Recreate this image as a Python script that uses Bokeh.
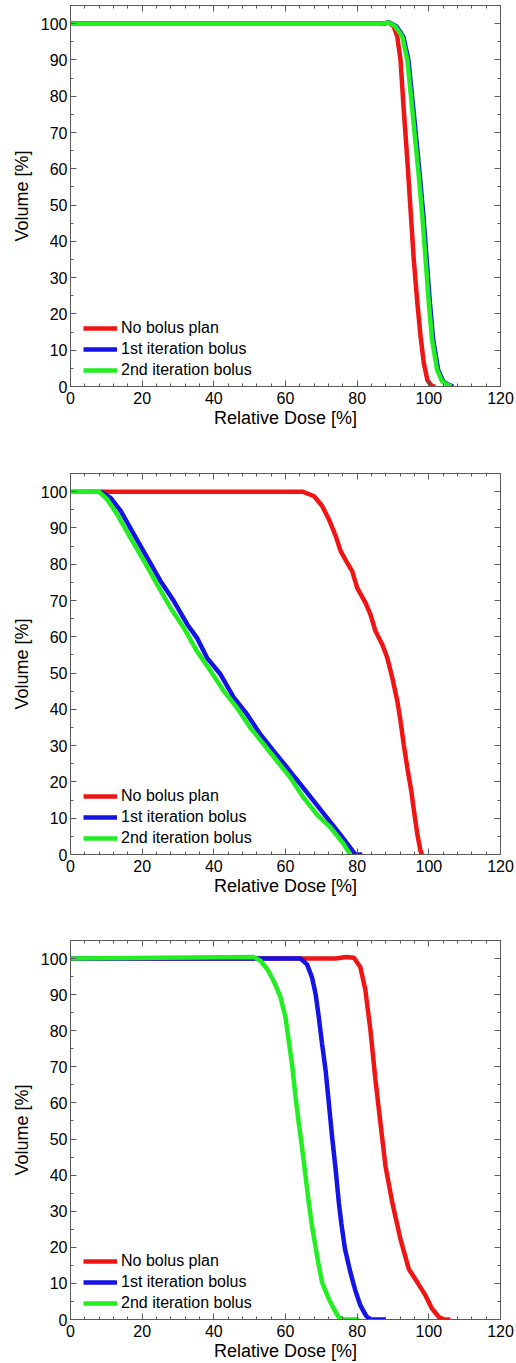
from bokeh.plotting import figure
from bokeh.layouts import column
from bokeh.models import Range1d, SingleIntervalTicker, LinearAxis, CustomJSTickFormatter, Legend, LegendItem
from bokeh.embed import file_html
from bokeh.resources import INLINE

series_names = ["No bolus plan", "1st iteration bolus", "2nd iteration bolus"]
colors = ["#f01414", "#1414e6", "#22ee22"]

# Panel 1
p1_red_x = [0, 87.0, 89.0, 90.2, 91.2, 92.1, 93.0, 94.0, 94.9, 95.8, 96.8, 97.7, 98.6, 99.6, 100.5, 101.2, 101.9]
p1_red_y = [100, 100, 100.3, 99.2, 96.4, 90.0, 76.2, 62.4, 48.7, 34.9, 23.0, 13.8, 6.4, 1.8, 0.5, 0, 0]
p1_blue_x = [0, 87.0, 89.0, 91.0, 92.9, 94.3, 95.7, 96.6, 97.5, 98.5, 99.4, 100.3, 101.2, 102.6, 104.0, 105.4, 106.8]
p1_blue_y = [100, 100, 100.3, 99.2, 96.4, 90.0, 76.2, 67.1, 57.9, 46.8, 34.9, 23.0, 12.9, 4.6, 1.4, 0.5, 0]
p1_green_x = [0, 87.0, 89.0, 90.7, 92.6, 94.0, 95.4, 96.3, 97.2, 98.2, 99.1, 100.0, 100.9, 102.3, 103.7, 105.1, 106.3]
p1_green_y = [100, 100, 100.3, 99.2, 96.4, 90.0, 76.2, 67.1, 57.9, 46.8, 34.9, 23.0, 12.9, 4.6, 1.4, 0.5, 0]

# Panel 2
p2_red_x = [0, 8.4, 64.7, 67.9, 70.2, 72.1, 74.0, 75.4, 77.2, 78.6, 80.0, 82.3, 83.7, 85.1, 87.0, 88.4, 89.8, 91.2, 92.1, 93.0, 94.0, 95.1, 96.0, 96.8, 97.7, 98.1]
p2_red_y = [100, 100, 100, 98.8, 96.1, 92.4, 87.8, 83.6, 80.4, 78.1, 73.5, 69.4, 66.2, 61.6, 57.9, 54.2, 48.7, 42.3, 36.8, 30.3, 23.9, 17.5, 11.0, 5.5, 0.9, 0]
p2_blue_x = [8.4, 11.2, 14.0, 17.7, 21.4, 25.1, 28.8, 32.6, 35.3, 38.1, 41.9, 45.6, 49.3, 53.0, 56.7, 60.5, 64.2, 67.9, 71.6, 75.3, 78.1, 79.5, 81.4]
p2_blue_y = [100, 98.3, 94.7, 88.2, 81.8, 75.4, 69.9, 63.4, 59.7, 54.2, 49.6, 43.2, 38.6, 33.1, 28.5, 23.9, 19.3, 14.7, 10.1, 5.5, 1.8, 0, 0]
p2_green_x = [0, 7.9, 10.2, 13.0, 16.7, 20.5, 24.2, 27.9, 31.6, 35.3, 39.1, 42.8, 46.5, 50.2, 54.0, 57.7, 61.4, 65.1, 68.8, 72.6, 76.3, 77.7, 78.1]
p2_green_y = [100, 100, 97.9, 93.8, 87.3, 80.9, 74.4, 68.0, 62.5, 56.0, 50.6, 45.0, 40.4, 34.9, 30.3, 25.7, 21.1, 15.6, 11.0, 7.4, 2.8, 0.5, 0]

# Panel 3
p3_red_x = [0, 74.0, 77.0, 79.1, 80.9, 82.3, 83.7, 85.1, 86.5, 87.9, 89.8, 92.1, 94.4, 96.8, 99.1, 100.9, 102.8, 104.0, 106.0]
p3_red_y = [100, 100, 100.4, 100.2, 97.6, 91.2, 80.2, 66.4, 54.4, 42.5, 32.4, 22.2, 14.0, 10.3, 6.6, 3.0, 0.7, 0, 0]
p3_blue_x = [0, 64.2, 66.0, 67.4, 68.4, 69.3, 70.2, 71.2, 72.1, 73.0, 74.0, 74.9, 75.6, 76.6, 78.1, 79.5, 80.9, 82.5, 83.7, 87.9]
p3_blue_y = [100, 100, 98.4, 94.8, 90.2, 83.7, 76.4, 69.0, 59.9, 50.7, 41.5, 32.3, 26.5, 19.5, 13.1, 8.0, 3.9, 1.0, 0, 0]
p3_green_x = [0, 51.2, 53.0, 54.9, 56.7, 58.6, 60.0, 60.9, 61.9, 62.8, 63.7, 64.7, 65.6, 66.5, 67.4, 68.8, 70.2, 72.1, 73.5, 74.9, 76.3, 80.5]
p3_green_y = [100, 100.4, 99.4, 97.1, 93.8, 89.3, 83.7, 77.3, 70.0, 61.7, 54.4, 47.0, 39.7, 32.3, 25.9, 17.6, 10.3, 5.7, 2.9, 0.6, 0, 0]

x_ticks_interval = 20
y_ticks_interval = 10
x_label = "Relative Dose [%]"
y_label = "Volume [%]"

FONT = "Liberation Sans"
AX_COLOR = "#5a5a5a"


def style_axis(ax, show_labels=True):
    ax.axis_line_color = AX_COLOR
    ax.major_tick_line_color = AX_COLOR
    ax.minor_tick_line_color = AX_COLOR
    ax.major_tick_in = 6
    ax.major_tick_out = 0
    ax.minor_tick_in = 3
    ax.minor_tick_out = 0
    ax.major_label_text_font = FONT
    ax.major_label_text_font_size = "16px"
    ax.major_label_text_color = "black"
    ax.axis_label_text_font = FONT
    ax.axis_label_text_font_size = "18px"
    ax.axis_label_text_font_style = "normal"
    ax.axis_label_text_color = "black"
    if not show_labels:
        ax.formatter = CustomJSTickFormatter(code="return ''")
        ax.major_label_standoff = 0
        ax.axis_label_standoff = 0


def make_panel(data, height, bottom):
    p = figure(width=516, height=height, output_backend="svg", toolbar_location=None,
               x_range=Range1d(0, 120), y_range=Range1d(0, 105),
               min_border_left=70, min_border_right=16, min_border_top=5, min_border_bottom=bottom)
    p.grid.visible = False
    p.outline_line_color = AX_COLOR
    p.background_fill_color = "white"
    p.border_fill_color = "white"
    xt = SingleIntervalTicker(interval=x_ticks_interval, num_minor_ticks=5)
    yt = SingleIntervalTicker(interval=y_ticks_interval, num_minor_ticks=2)
    p.xaxis.ticker = xt
    p.yaxis.ticker = yt
    p.xaxis.axis_label = x_label
    p.yaxis.axis_label = y_label
    for ax in p.xaxis:
        style_axis(ax)
        ax.major_label_standoff = 5
        ax.axis_label_standoff = 1
    for ax in p.yaxis:
        style_axis(ax)
        ax.major_label_standoff = 3
        ax.axis_label_standoff = 6
    top = LinearAxis(ticker=SingleIntervalTicker(interval=x_ticks_interval, num_minor_ticks=5))
    style_axis(top, show_labels=False)
    p.add_layout(top, "above")
    right = LinearAxis(ticker=SingleIntervalTicker(interval=y_ticks_interval, num_minor_ticks=2))
    style_axis(right, show_labels=False)
    p.add_layout(right, "right")

    items = []
    for (xs, ys), name, c in zip(data, series_names, colors):
        r = p.line(xs, ys, line_color=c, line_width=4.5)
        items.append(LegendItem(label=name, renderers=[r]))
    leg = Legend(items=items, location=(13, 6), orientation="vertical")
    leg.background_fill_alpha = 0
    leg.border_line_color = None
    leg.padding = 0
    leg.margin = 0
    leg.spacing = 1
    leg.glyph_width = 34
    leg.glyph_height = 20
    leg.label_height = 20
    leg.label_standoff = 4
    leg.label_text_font = FONT
    leg.label_text_font_size = "16px"
    leg.label_text_color = "black"
    p.add_layout(leg, "center")
    return p


p1 = make_panel([(p1_red_x, p1_red_y), (p1_blue_x, p1_blue_y), (p1_green_x, p1_green_y)], 468, 82)
p2 = make_panel([(p2_red_x, p2_red_y), (p2_blue_x, p2_blue_y), (p2_green_x, p2_green_y)], 467, 81)
p3 = make_panel([(p3_red_x, p3_red_y), (p3_blue_x, p3_blue_y), (p3_green_x, p3_green_y)], 428, 42)

layout = column(p1, p2, p3, spacing=0)
open("out.html", "w").write(file_html(layout, INLINE))
